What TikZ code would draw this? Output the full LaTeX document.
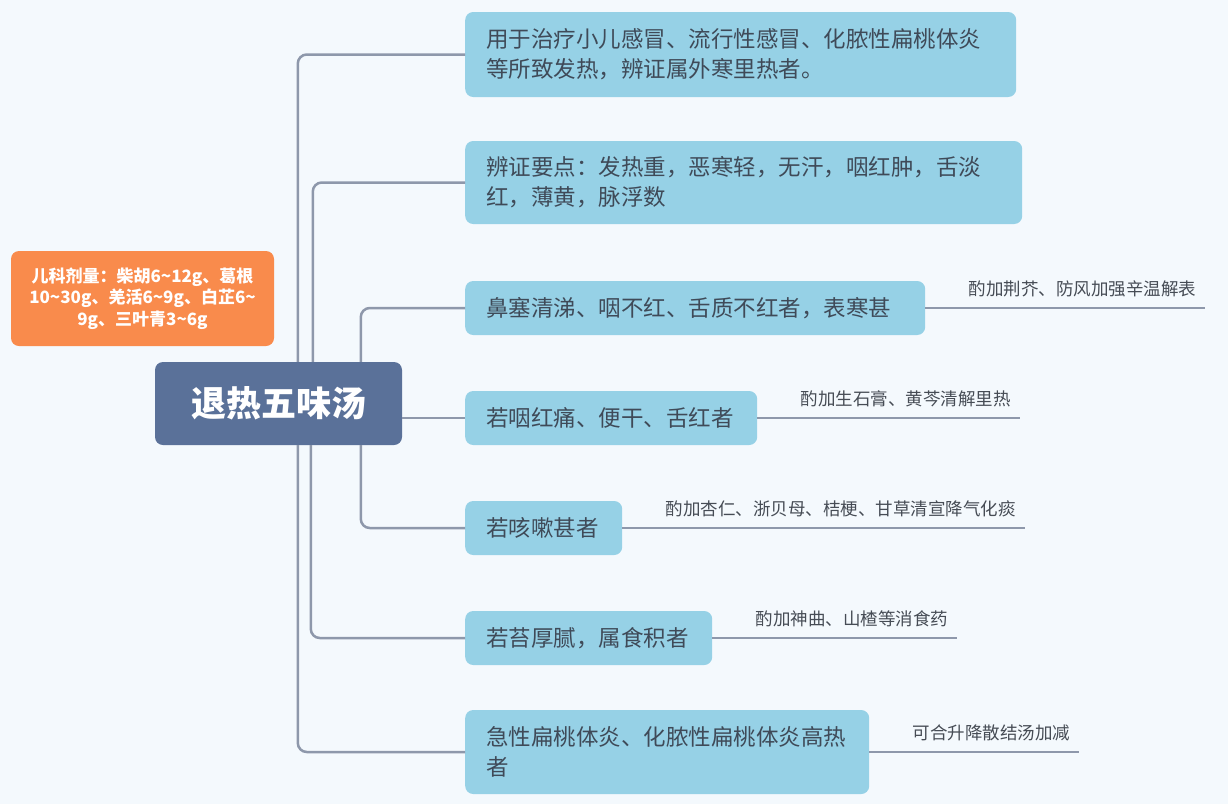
\documentclass[tikz,border=0pt]{standalone}
\usepackage{fontspec}
\setmainfont{Noto Sans CJK SC}
\usetikzlibrary{calc}
\definecolor{bgc}{HTML}{F4F9FD}
\definecolor{boxc}{HTML}{96D1E6}
\definecolor{rootc}{HTML}{5A7199}
\definecolor{orangec}{HTML}{F98B4C}
\definecolor{linec}{HTML}{8E98AB}
\definecolor{txtc}{HTML}{3F4A58}
\definecolor{notec}{HTML}{464C55}
\tikzset{
  topic/.style={fill=boxc, rounded corners=8pt, anchor=west, inner xsep=21pt, inner ysep=0pt,
    align=left, text=txtc, font=\fontsize{22.5}{30}\selectfont},
  rootbox/.style={fill=rootc, rounded corners=8pt, text=white, minimum width=247pt, minimum height=83pt,
    font=\fontsize{35}{40}\selectfont\bfseries},
  dosebox/.style={fill=orangec, rounded corners=8pt, text=white, minimum width=263pt, minimum height=95pt,
    text width=246pt, align=center, inner xsep=0pt, font=\fontsize{17}{21.5}\selectfont\bfseries},
  note/.style={anchor=base west, text=notec, inner sep=0pt, font=\fontsize{17.5}{20}\selectfont},
  conn/.style={draw=linec, line width=2.5pt, rounded corners=9pt}
}
\begin{document}
\begin{tikzpicture}[x=1pt,y=-1pt]
\fill[bgc] (0,0) rectangle (1228,804);
\useasboundingbox (0,0) rectangle (1228,804);

\node[rootbox] (root) at (278.5,403.5) {退热五味汤};
\node[dosebox] (dose) at (142.5,298.5) {儿科剂量：柴胡6\textasciitilde12g、葛根\\10\textasciitilde30g、羌活6\textasciitilde9g、白芷6\textasciitilde\\9g、三叶青3\textasciitilde6g};

\node[topic, text width=509pt, minimum height=85pt] (b1) at (465,54.5) {用于治疗小儿感冒、流行性感冒、化脓性扁桃体炎\\等所致发热，辨证属外寒里热者。};
\node[topic, text width=515pt, minimum height=83pt] (b2) at (465,182.5) {辨证要点：发热重，恶寒轻，无汗，咽红肿，舌淡\\红，薄黄，脉浮数};
\node[topic, text width=418pt, minimum height=54pt] (b3) at (465,308) {鼻塞清涕、咽不红、舌质不红者，表寒甚};
\node[topic, text width=250pt, minimum height=54pt] (b4) at (465,418) {若咽红痛、便干、舌红者};
\node[topic, text width=115pt, minimum height=54pt] (b5) at (465,528) {若咳嗽甚者};
\node[topic, text width=205pt, minimum height=54pt] (b6) at (465,638) {若苔厚腻，属食积者};
\node[topic, text width=362pt, minimum height=84pt] (b7) at (465,752) {急性扁桃体炎、化脓性扁桃体炎高热\\者};

% connectors from root
\draw[conn] (root.north west) ++(143,0) |- (b1.west);
\draw[conn] (root.north west) ++(158,0) |- (b2.west);
\draw[conn] (root.north west) ++(206,0) |- (b3.west);
\draw[conn] (b4.west -| root.east) -- (b4.west);
\draw[conn] (root.south west) ++(206,0) |- (b5.west);
\draw[conn] (root.south west) ++(156,0) |- (b6.west);
\draw[conn] (root.south west) ++(143,0) |- (b7.west);

% notes
\node[note] (n3) at ([xshift=43pt,yshift=13pt]b3.east) {酌加荆芥、防风加强辛温解表};
\node[note] (n4) at ([xshift=43pt,yshift=13pt]b4.east) {酌加生石膏、黄芩清解里热};
\node[note] (n5) at ([xshift=43pt,yshift=13pt]b5.east) {酌加杏仁、浙贝母、桔梗、甘草清宣降气化痰};
\node[note] (n6) at ([xshift=43pt,yshift=13pt]b6.east) {酌加神曲、山楂等消食药};
\node[note] (n7) at ([xshift=43pt,yshift=13pt]b7.east) {可合升降散结汤加减};
\coordinate (e3) at ([xshift=9pt]n3.east |- b3.east);
\coordinate (e4) at ([xshift=9pt]n4.east |- b4.east);
\coordinate (e5) at ([xshift=9pt]n5.east |- b5.east);
\coordinate (e6) at ([xshift=9pt]n6.east |- b6.east);
\coordinate (e7) at ([xshift=9pt]n7.east |- b7.east);
\draw[conn] (b3.east) -- (e3);
\draw[conn] (b4.east) -- (e4);
\draw[conn] (b5.east) -- (e5);
\draw[conn] (b6.east) -- (e6);
\draw[conn] (b7.east) -- (e7);
\end{tikzpicture}
\end{document}
